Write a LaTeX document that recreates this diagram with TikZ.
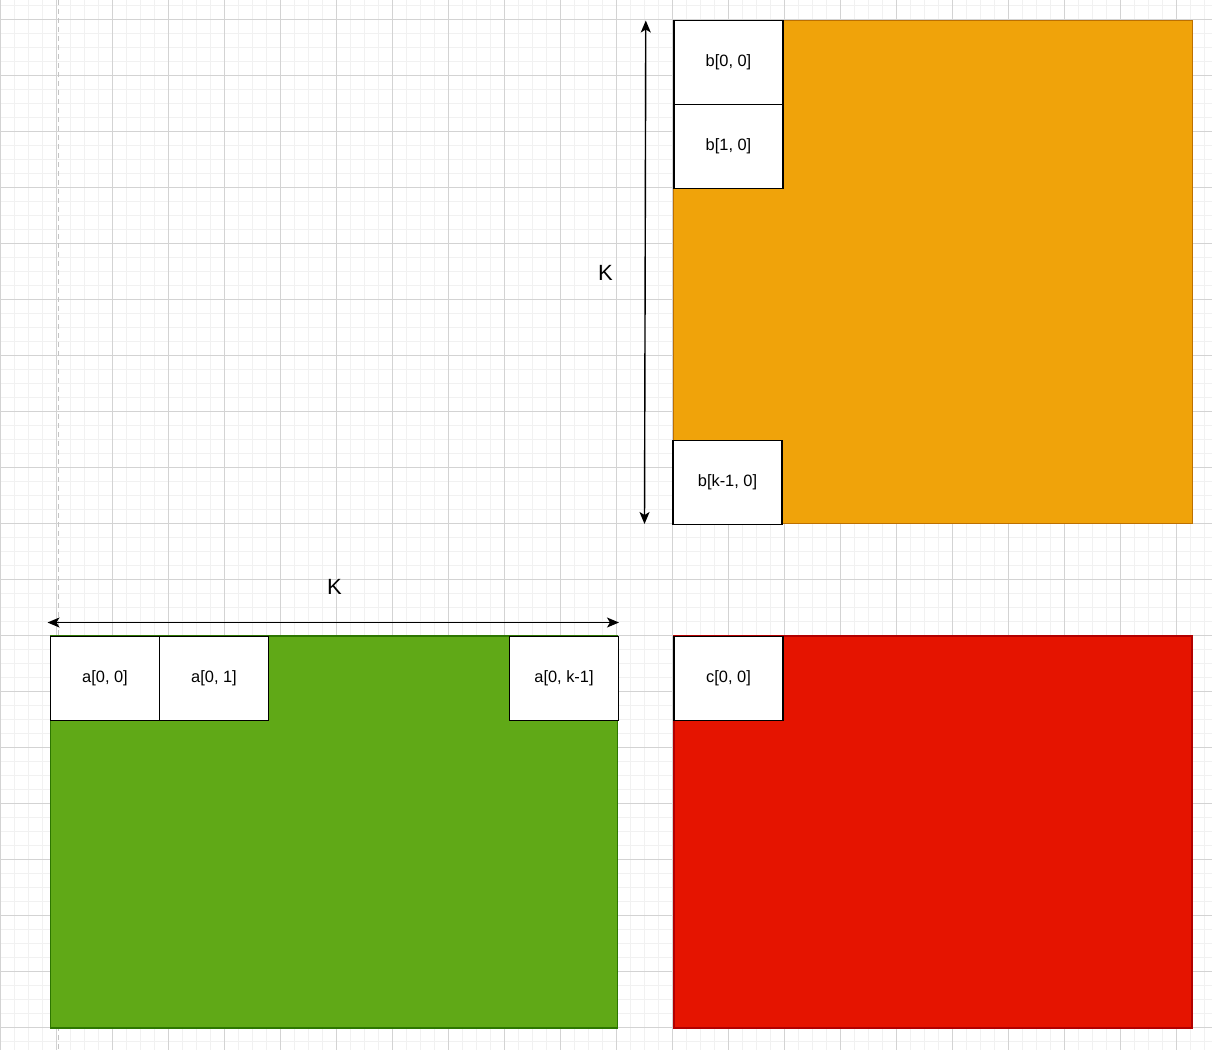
\documentclass[tikz,border=0pt]{standalone}
\usepackage{fontspec}
\setmainfont{Liberation Sans}
\usetikzlibrary{arrows.meta}
\definecolor{orangeF}{HTML}{F0A30A}
\definecolor{orangeS}{HTML}{BD7000}
\definecolor{greenF}{HTML}{60A917}
\definecolor{greenS}{HTML}{2D7600}
\definecolor{redF}{HTML}{E51400}
\definecolor{redS}{HTML}{B20000}
\definecolor{gridminor}{HTML}{F1F1F1}
\definecolor{gridmajor}{HTML}{D3D3D3}
\definecolor{guide}{HTML}{C4C4C4}
\begin{document}
\begin{tikzpicture}[x=1pt,y=-1pt,
  matrixbox/.style={rectangle,inner sep=0pt,outer sep=0pt,line width=1.4pt,anchor=north west},
  cellbox/.style={rectangle,draw=black,fill=white,line width=1.4pt,inner sep=0pt,outer sep=0pt,
    minimum width=109pt,minimum height=84pt,anchor=north west,font=\fontsize{16.4}{19}\selectfont},
  dimarrow/.style={line width=1.4pt,{Stealth[length=12pt,width=10pt,inset=3pt]}-{Stealth[length=12pt,width=10pt,inset=3pt]}},
  dimlabel/.style={font=\fontsize{22}{26}\selectfont,inner sep=0pt}]
\useasboundingbox (0,0) rectangle (1212,1050);
\fill[white] (0,0) rectangle (1212,1050);
% grid
\foreach \x in {0.5,14.5,...,1212} \draw[gridminor,line width=1pt] (\x,0) -- (\x,1050);
\foreach \y in {5.5,19.5,...,1050} \draw[gridminor,line width=1pt] (0,\y) -- (1212,\y);
\foreach \x in {0.5,56.5,...,1212} \draw[gridmajor,line width=1pt] (\x,0) -- (\x,1050);
\foreach \y in {19.5,75.5,...,1050} \draw[gridmajor,line width=1pt] (0,\y) -- (1212,\y);
\draw[guide,line width=1.3pt,dash pattern=on 5pt off 4pt] (58.5,0) -- (58.5,1050);
% matrices
\node[matrixbox,fill=orangeF,draw=orangeS,minimum width=519pt,minimum height=503pt] (B) at (673.5,20.5) {};
\node[matrixbox,fill=greenF,draw=greenS,minimum width=567pt,minimum height=392pt] (A) at (50.5,636) {};
\node[matrixbox,fill=redF,draw=redS,minimum width=518pt,minimum height=392pt] (C) at (674,636) {};
% cells
\node[cellbox] (b00) at (674,20.5) {b[0, 0]};
\node[cellbox] (b10) at (674,104.5) {b[1, 0]};
\node[cellbox] (bk0) at (673,440.5) {b[k-1, 0]};
\node[cellbox] (a00) at (50.5,636.5) {a[0, 0]};
\node[cellbox] (a01) at (159.5,636.5) {a[0, 1]};
\node[cellbox] (a0k) at (509.5,636.5) {a[0, k-1]};
\node[cellbox] (c00) at (674,636.5) {c[0, 0]};
% dimension arrows
\coordinate (kTop) at (645.8,20.5);
\coordinate (kBot) at (644.5,524);
\draw[dimarrow] (kTop) -- (kBot);
\node[dimlabel] (kv) at (605.5,273) {K};
\coordinate (kLeft) at (47.5,622.5);
\coordinate (kRight) at (619,622.5);
\draw[dimarrow] (kLeft) -- (kRight);
\node[dimlabel] (kh) at (334.5,587) {K};
\end{tikzpicture}
\end{document}
